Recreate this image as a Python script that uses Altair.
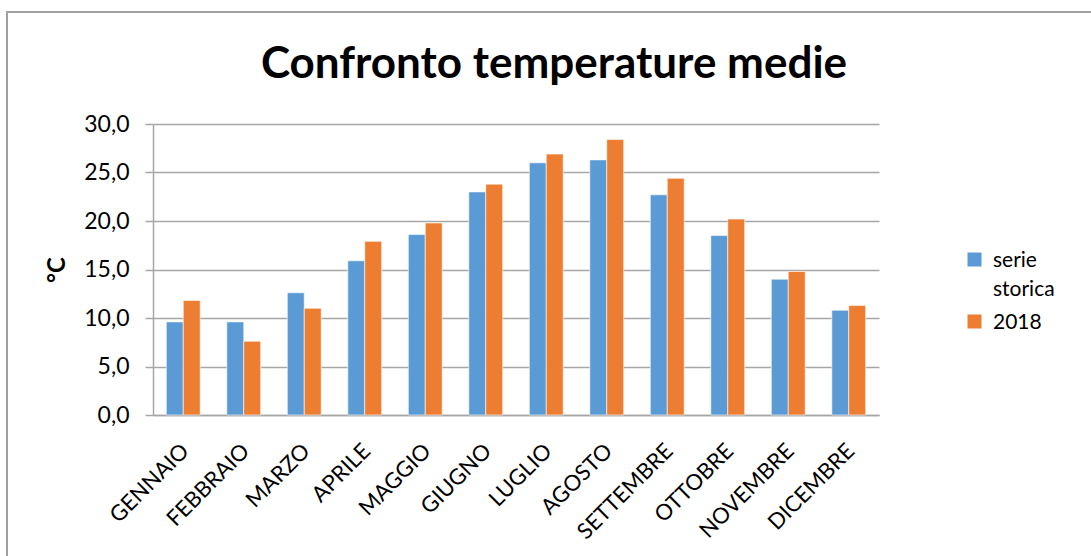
import altair as alt
import pandas as pd

# Monthly mean temperatures (°C): long-term series vs 2018
mesi = ["GENNAIO", "FEBBRAIO", "MARZO", "APRILE", "MAGGIO", "GIUGNO",
        "LUGLIO", "AGOSTO", "SETTEMBRE", "OTTOBRE", "NOVEMBRE", "DICEMBRE"]
serie_storica = [9.6, 9.6, 12.6, 15.9, 18.6, 23.0, 26.0, 26.3, 22.7, 18.5, 14.0, 10.8]
anno_2018 = [11.8, 7.6, 11.0, 17.9, 19.8, 23.8, 26.9, 28.4, 24.4, 20.2, 14.8, 11.3]
serie_nomi = ["serie storica", "2018"]
colori = ["#5B9BD5", "#ED7D31"]
y_ticks = [0, 5, 10, 15, 20, 25, 30]
titolo = "Confronto temperature medie"

rows = []
for m, a, b in zip(mesi, serie_storica, anno_2018):
    rows.append({"mese": m, "serie": serie_nomi[0], "temp": a})
    rows.append({"mese": m, "serie": serie_nomi[1], "temp": b})
df = pd.DataFrame(rows)

FONT = "Lato"
GRID = "#a6a6a6"

# square legend swatch raised so its bottom sits on the label baseline
swatch = "M-1,-2H1V0H-1Z"

bars = alt.Chart(df).mark_bar(stroke="white", strokeWidth=0.6).encode(
    x=alt.X("mese:N", sort=mesi,
            scale=alt.Scale(paddingInner=0.44, paddingOuter=0.22),
            axis=alt.Axis(title=None, labelAngle=-45, labelAlign="right",
                          labelBaseline="middle", labelFontSize=22,
                          labelPadding=32, labelOffset=2, ticks=False,
                          domainColor=GRID, domainWidth=1.5,
                          labelColor="black")),
    xOffset=alt.XOffset("serie:N", sort=serie_nomi),
    y=alt.Y("temp:Q", scale=alt.Scale(domain=[0, 30], nice=False),
            axis=alt.Axis(title="°C", values=y_ticks,
                          labelExpr="replace(format(datum.value, '.1f'), '.', ',')",
                          labelFontSize=23, labelPadding=16, tickSize=8,
                          tickColor=GRID, tickWidth=1.5, domainColor=GRID,
                          domainWidth=1.5, gridColor=GRID, gridWidth=1.5,
                          titleFontSize=24, titleFontWeight="bold",
                          titlePadding=14, labelColor="black")),
    color=alt.Color("serie:N", sort=serie_nomi,
                    scale=alt.Scale(domain=serie_nomi, range=colori),
                    legend=alt.Legend(title=None, orient="none", legendX=811,
                                      legendY=132, symbolType=swatch,
                                      symbolSize=196, symbolStrokeWidth=0,
                                      labelFontSize=21, labelOffset=8,
                                      rowPadding=11, labelBaseline="alphabetic",
                                      labelColor="black",
                                      labelExpr="datum.label == 'serie storica' ? ['serie', 'storica'] : datum.label")),
)

# chart title, centred over the chart area
heading = alt.Chart(pd.DataFrame({"t": [titolo]})).mark_text(
    fontSize=44, fontWeight="bold", font=FONT, color="black",
    align="center", baseline="alphabetic"
).encode(text="t:N", x=alt.value(401), y=alt.value(-46))

# outer frame of the chart area
frame = alt.Chart(pd.DataFrame({"k": [0]})).mark_rect(
    fill=None, stroke="#a0a0a0", strokeWidth=2
).encode(
    x=alt.value(-146), x2=alt.value(960), y=alt.value(-112), y2=alt.value(450)
)

chart = alt.layer(frame, heading, bars).properties(
    width=726, height=291,
    padding={"left": 153, "top": 124, "right": 212, "bottom": 141},
    autosize=alt.AutoSizeParams(type="none"),
).configure(
    font=FONT, style={"guide-label": {"lineHeight": 29}}
).configure_view(stroke=None).configure_axis(
    labelFont=FONT, titleFont=FONT
).configure_legend(labelFont=FONT)

chart.save("out.html", embed_options={"renderer": "svg", "actions": False})
